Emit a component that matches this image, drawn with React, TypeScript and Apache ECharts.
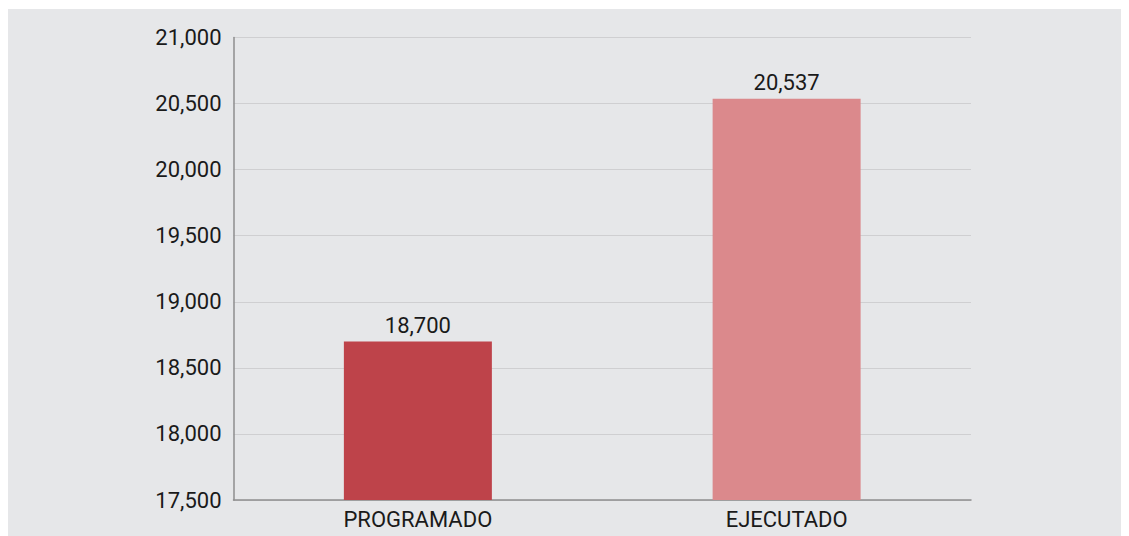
import React, { useEffect, useRef } from "react";
import * as echarts from "echarts";

const categories = ["PROGRAMADO", "EJECUTADO"];
const values = [18700, 20537];
const barColors = ["#BE434A", "#DB898C"];
const yMin = 17500;
const yMax = 21000;
const yInterval = 500;

export default function App() {
  const ref = useRef<HTMLDivElement>(null);
  useEffect(() => {
    if (!ref.current) return;
    const chart = echarts.init(ref.current, null, { renderer: "svg" });
    const font = "Roboto, 'Liberation Sans', Arial, sans-serif";
    chart.setOption({
      animation: false,
      backgroundColor: "#E6E7E9",
      grid: { left: 226.5, right: 158, top: 28.5, bottom: 36, containLabel: false },
      xAxis: {
        type: "category",
        data: categories,
        axisLine: { show: true, lineStyle: { color: "#8E8E8E", width: 1.5 } },
        axisTick: { show: false },
        axisLabel: { color: "#1A1A1A", fontSize: 22, fontFamily: font, margin: 8 },
      },
      yAxis: {
        type: "value",
        min: yMin,
        max: yMax,
        interval: yInterval,
        axisLine: { show: true, lineStyle: { color: "#8E8E8E", width: 1.5 } },
        axisTick: { show: false },
        splitLine: { show: true, lineStyle: { color: "#CFCFD1", width: 1.2 } },
        axisLabel: {
          color: "#1A1A1A",
          fontSize: 22,
          fontFamily: font,
          margin: 12,
          formatter: (v: number) => v.toLocaleString("en-US"),
        },
      },
      series: [
        {
          type: "bar",
          barWidth: 148,
          data: values.map((v, i) => ({ value: v, itemStyle: { color: barColors[i] } })),
          label: {
            show: true,
            position: "top",
            distance: 5,
            color: "#1A1A1A",
            fontSize: 22,
            fontFamily: font,
            formatter: (p: any) => Number(p.value).toLocaleString("en-US"),
          },
        },
      ],
    });
    return () => chart.dispose();
  }, []);
  return (
    <div
      ref={ref}
      style={{ width: 1122, height: 527, marginLeft: -1, marginTop: 1 }}
    />
  );
}
